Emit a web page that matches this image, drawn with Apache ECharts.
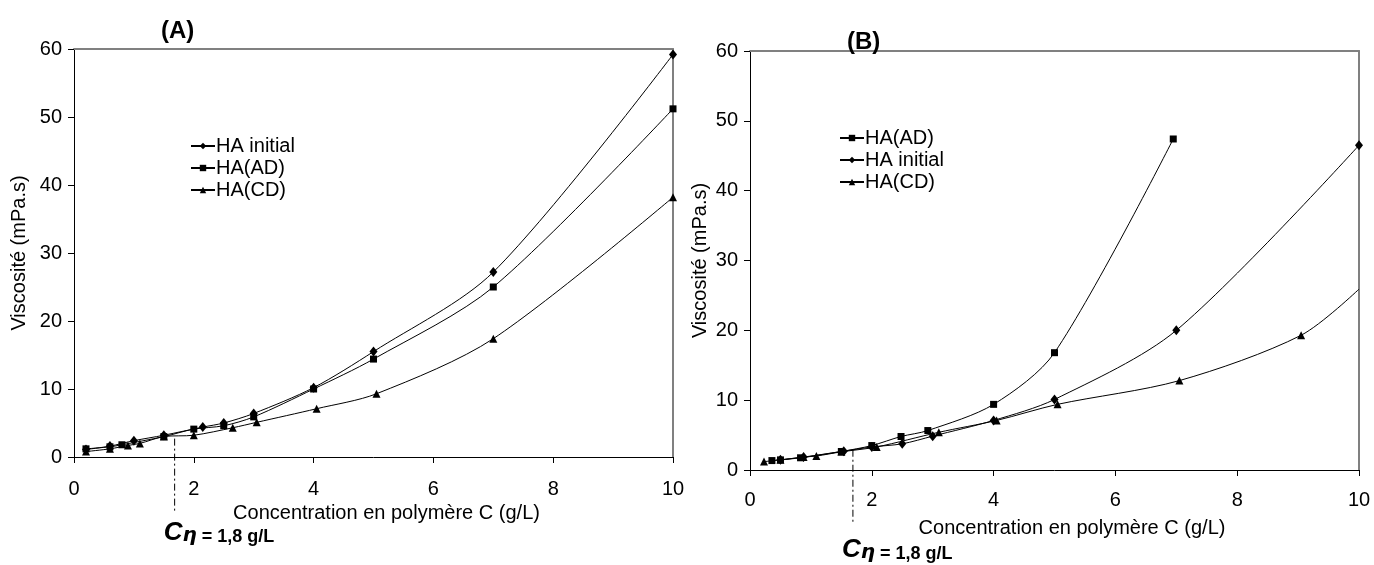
<!DOCTYPE html>
<html><head><meta charset="utf-8">
<script src="https://cdn.jsdelivr.net/npm/echarts@6/dist/echarts.min.js"></script>
<style>html,body{margin:0;padding:0;background:#fff}#c{width:1374px;height:565px}</style>
</head><body><div id="c"></div>
<script>
// ---- Data: chart (A)
const A_initial_x = [0.2, 0.6, 1.0, 1.5, 2.15, 2.5, 3.0, 4.0, 5.0, 7.0, 10.0];
const A_initial_y = [1.1, 1.6, 2.4, 3.2, 4.4, 5.0, 6.4, 10.2, 15.5, 27.2, 59.2];
const A_AD_x = [0.2, 0.6, 0.8, 1.5, 2.0, 2.5, 3.0, 4.0, 5.0, 7.0, 10.0];
const A_AD_y = [1.2, 1.5, 1.8, 3.0, 4.1, 4.6, 5.9, 10.0, 14.4, 25.0, 51.2];
const A_CD_x = [0.2, 0.6, 0.9, 1.1, 1.5, 2.0, 2.65, 3.05, 4.05, 5.05, 7.0, 10.0];
const A_CD_y = [0.8, 1.2, 1.7, 2.0, 3.0, 3.2, 4.3, 5.1, 7.1, 9.3, 17.4, 38.2];
// ---- Data: chart (B)
const B_AD_x = [0.36, 0.5, 0.83, 1.5, 2.0, 2.48, 2.92, 4.0, 5.0, 6.95];
const B_AD_y = [1.35, 1.45, 1.75, 2.65, 3.5, 4.8, 5.65, 9.4, 16.8, 47.4];
const B_initial_x = [0.5, 0.88, 1.54, 2.0, 2.5, 3.0, 4.0, 5.0, 7.0, 10.0];
const B_initial_y = [1.45, 1.85, 2.7, 3.3, 3.75, 4.85, 7.1, 10.1, 20.0, 46.5];
const B_CD_x = [0.23, 0.5, 0.88, 1.09, 1.5, 2.08, 3.1, 4.05, 5.05, 7.05, 9.05, 10.0];
const B_CD_y = [1.2, 1.45, 1.85, 2.0, 2.6, 3.3, 5.4, 7.1, 9.4, 12.8, 19.3, 25.9];
// ---- Axis ticks & labels
const xTicks = [0, 2, 4, 6, 8, 10];
const yTicks = [0, 10, 20, 30, 40, 50, 60];
const titles = ['(A)', '(B)'];
const xName = 'Concentration en polymère C (g/L)';
const yName = 'Viscosité (mPa.s)';
const legendA = ['HA initial', 'HA(AD)', 'HA(CD)'];
const legendB = ['HA(AD)', 'HA initial', 'HA(CD)'];
// Cη annotation: x position and the curve value where the dash-dot line starts
const annotX = [1.68, 1.69];
const annotY = [2.7, 2.9];
const annotText = ['C', 'η', ' = 1,8 g/L'];

const FONT = "'Liberation Sans', Arial, sans-serif";
const zip = (xs, ys) => xs.map((x, i) => [x, ys[i]]);
const symbolOf = { 'HA initial': 'diamond', 'HA(AD)': 'rect', 'HA(CD)': 'triangle' };
const sizeOf = { 'HA initial': [8, 10], 'HA(AD)': 7, 'HA(CD)': 8 };

function mkSeries(name, xs, ys, gi, lastNoSymbol) {
  const data = zip(xs, ys).map((p, i) => (lastNoSymbol && i === xs.length - 1) ? { value: p, symbol: 'none' } : p);
  return {
    name, type: 'line', xAxisIndex: gi, yAxisIndex: gi, data,
    smooth: 0.3, symbol: symbolOf[name], symbolSize: sizeOf[name],
    lineStyle: { color: '#000', width: 1 },
    itemStyle: { color: '#000' },
    emphasis: { disabled: true }, animation: false, z: 3
  };
}

const mainX = (gi) => ({
  type: 'value', gridIndex: gi, min: xTicks[0], max: xTicks[xTicks.length - 1], interval: xTicks[1] - xTicks[0],
  name: xName, nameLocation: 'middle', nameGap: gi === 0 ? 40 : 48,
  nameTextStyle: { fontSize: 20, color: '#000', fontFamily: FONT, padding: gi === 0 ? [0, 0, 0, 26] : [0, 0, 0, 35] },
  axisLine: { show: true, onZero: false, lineStyle: { color: '#000', width: 1 } },
  axisTick: { show: true, inside: false, length: 6, lineStyle: { color: '#000' } },
  axisLabel: { fontSize: 20, color: '#000', fontFamily: FONT, margin: gi === 0 ? 22 : 20 },
  splitLine: { show: false }
});
const mainY = (gi) => ({
  type: 'value', gridIndex: gi, min: yTicks[0], max: yTicks[yTicks.length - 1], interval: yTicks[1] - yTicks[0],
  name: yName, nameLocation: 'middle', nameGap: gi === 0 ? 45 : 40, nameRotate: 90,
  nameTextStyle: { fontSize: 20, color: '#000', fontFamily: FONT },
  axisLine: { show: true, onZero: false, lineStyle: { color: '#000', width: 1 } },
  axisTick: { show: true, length: 6, lineStyle: { color: '#000' } },
  axisLabel: { fontSize: 20, color: '#000', fontFamily: FONT, margin: 12 },
  splitLine: { show: false }
});
const frameX = (gi) => ({
  type: 'value', gridIndex: gi, position: 'top', min: xTicks[0], max: xTicks[xTicks.length - 1],
  axisLine: { show: true, onZero: false, lineStyle: { color: '#808080', width: 2 } },
  axisTick: { show: false }, axisLabel: { show: false }, splitLine: { show: false }
});
const frameY = (gi) => ({
  type: 'value', gridIndex: gi, position: 'right', min: yTicks[0], max: yTicks[yTicks.length - 1],
  axisLine: { show: true, onZero: false, lineStyle: { color: '#808080', width: 2 } },
  axisTick: { show: false }, axisLabel: { show: false }, splitLine: { show: false }
});

const legendCommon = {
  orient: 'vertical', itemWidth: 24, itemHeight: 8, itemGap: 0,
  textStyle: { fontSize: 20, color: '#000', fontFamily: FONT, lineHeight: 22, padding: [0, 0, 0, -4] },
  selectedMode: false
};

const chart = echarts.init(document.getElementById('c'), null, { renderer: 'canvas' });
chart.setOption({
  backgroundColor: '#fff',
  animation: false,
  title: [
    { text: titles[0], left: 156, top: 14, textStyle: { fontSize: 24, fontWeight: 'bold', color: '#000', fontFamily: FONT } },
    { text: titles[1], left: 842, top: 25, textStyle: { fontSize: 24, fontWeight: 'bold', color: '#000', fontFamily: FONT } }
  ],
  grid: [
    { left: 74, right: 701, top: 49, bottom: 108, containLabel: false },
    { left: 750, right: 15, top: 51, bottom: 95, containLabel: false }
  ],
  legend: [
    Object.assign({}, legendCommon, { data: legendA, left: 185, top: 130 }),
    Object.assign({}, legendCommon, { data: legendB, left: 834, top: 122 })
  ],
  xAxis: [mainX(0), mainX(1), frameX(0), frameX(1)],
  yAxis: [mainY(0), mainY(1), frameY(0), frameY(1)],
  series: [
    mkSeries('HA initial', A_initial_x, A_initial_y, 0),
    mkSeries('HA(AD)', A_AD_x, A_AD_y, 0),
    mkSeries('HA(CD)', A_CD_x, A_CD_y, 0),
    mkSeries('HA(AD)', B_AD_x, B_AD_y, 1),
    mkSeries('HA initial', B_initial_x, B_initial_y, 1),
    mkSeries('HA(CD)', B_CD_x, B_CD_y, 1, true)
  ]
});

// annotation (dash-dot line + Cη label), positioned from data coordinates
const graphics = [];
[0, 1].forEach((gi) => {
  const top = chart.convertToPixel({ xAxisIndex: gi, yAxisIndex: gi }, [annotX[gi], annotY[gi]]);
  const base = chart.convertToPixel({ xAxisIndex: gi, yAxisIndex: gi }, [annotX[gi], 0]);
  graphics.push({
    type: 'line', silent: true, z: 10,
    shape: { x1: top[0], y1: top[1], x2: top[0], y2: base[1] + 54 },
    style: { stroke: '#000', lineWidth: 1, lineDash: [7, 3, 2, 3] }
  });
  graphics.push({
    type: 'text', silent: true, z: 10,
    x: top[0] - 11, y: base[1] + (gi === 0 ? 62 : 66),
    style: {
      text: '{c|' + annotText[0] + '}{e|' + annotText[1] + '}{t|' + annotText[2] + '}',
      fill: '#000',
      rich: {
        c: { fontSize: 26, fontWeight: 'bold', fontStyle: 'italic', fontFamily: FONT, fill: '#000', verticalAlign: 'bottom' },
        e: { fontSize: 20, fontWeight: 'bold', fontStyle: 'italic', fontFamily: 'DejaVu Sans, sans-serif', fill: '#000', padding: [7, 0, 0, 0], verticalAlign: 'bottom' },
        t: { fontSize: 18, fontWeight: 'bold', fontFamily: FONT, fill: '#000', verticalAlign: 'bottom' }
      }
    }
  });
});
chart.setOption({ graphic: graphics });
</script>
</body></html>
